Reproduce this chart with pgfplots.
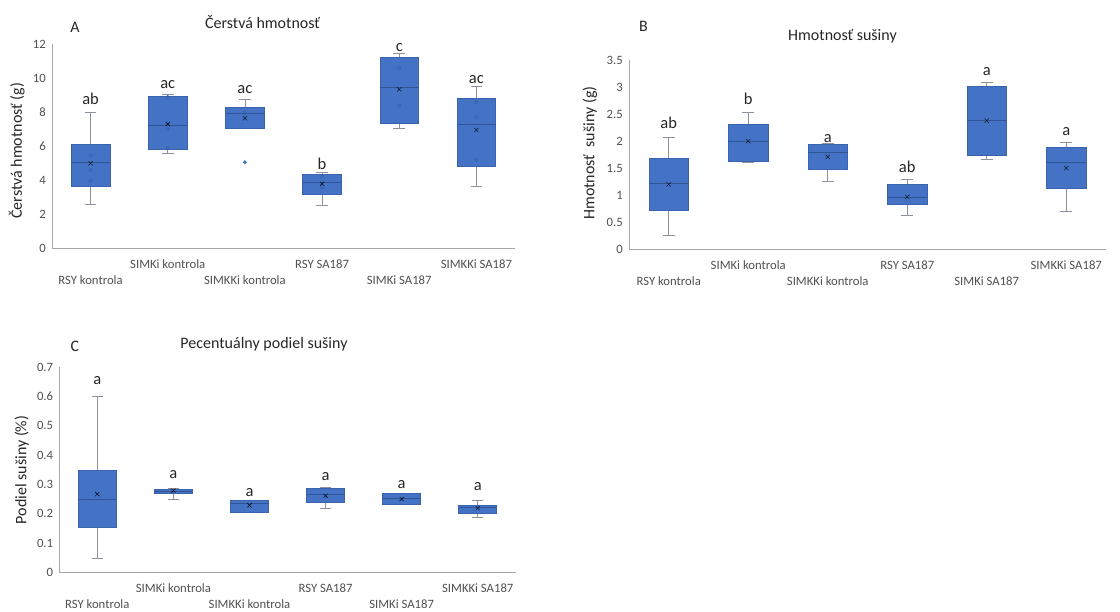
\documentclass[border=0pt]{standalone}
\usepackage{fontspec}
\setmainfont{Carlito}
\usepackage{pgfplots}
\pgfplotsset{compat=1.18}
\usepgfplotslibrary{statistics}
\definecolor{boxfill}{HTML}{4472C4}
\definecolor{boxedge}{HTML}{3A63AE}
\definecolor{mediancol}{HTML}{2F5597}
\definecolor{whiskergray}{HTML}{8C939E}
\definecolor{axisgray}{HTML}{A6A6A6}
\definecolor{tickgray}{HTML}{505050}
\definecolor{avgcol}{HTML}{2E5598}
\definecolor{innerpt}{HTML}{345EAC}
\newcommand{\tickfont}{\fontsize{12.7}{14}\selectfont}
\newcommand{\bigfont}{\fontsize{16}{19}\selectfont}
\newcommand{\lowlab}[1]{\raisebox{-16.5pt}{#1}}
\tikzset{letter/.style={anchor=base, font=\fontsize{16.5}{19}\selectfont, text=black!85, inner sep=0pt}}
\pgfplotsset{
  mybox/.style={
    scale only axis, clip=false,
    xmin=-0.5, xmax=5.5,
    axis x line=bottom, axis y line=left,
    axis line style={draw=axisgray, line width=0.8pt, -},
    x axis line style={-}, y axis line style={-},
    xtick={0,...,5},
    xticklabels={{\lowlab{RSY kontrola}},{SIMKi kontrola},{\lowlab{SIMKKi kontrola}},{RSY SA187},{\lowlab{SIMKi SA187}},{SIMKKi SA187}},
    major tick length=0pt, minor tick num=0,
    xticklabel style={anchor=base, yshift=-20pt, font=\tickfont, text=tickgray, inner sep=0pt},
    yticklabel style={anchor=east, xshift=-6pt, font=\tickfont, text=tickgray, inner sep=0pt},
    /pgf/number format/assume math mode=true,
    boxplot/draw direction=y,
    boxplot/box extend=0.5,
    boxplot/whisker extend=0.15,
    boxplot/every box/.style={draw=boxedge, fill=boxfill, line width=0.6pt},
    boxplot/every whisker/.style={draw=whiskergray, line width=0.8pt},
    boxplot/every median/.style={draw=mediancol, line width=0.8pt},
    boxplot/every average/.style={/tikz/mark=x, /tikz/mark size=3pt, draw=avgcol, line width=0.5pt},
  },
}
\begin{document}
\begin{tikzpicture}
\useasboundingbox (0,0) rectangle (1120pt,611pt);
% ---------------- Panel A ----------------
\begin{axis}[mybox, at={(52pt,362.7pt)}, anchor=south west,
  width=463pt, height=204pt, ymin=0, ymax=12, ytick={0,2,4,6,8,10,12}]
\addplot[boxplot prepared={draw position=0, lower whisker=2.6, lower quartile=3.62, median=5.06, upper quartile=6.13, upper whisker=8.0, average=5.0}] coordinates {};
\addplot[boxplot prepared={draw position=1, lower whisker=5.6, lower quartile=5.8, median=7.21, upper quartile=8.96, upper whisker=9.04, average=7.31}] coordinates {};
\addplot[boxplot prepared={draw position=2, lower whisker=7.06, lower quartile=7.06, median=7.94, upper quartile=8.27, upper whisker=8.78, average=7.65},
  mark=*, mark size=1.8pt, mark options={draw=boxfill, fill=boxfill}] table[row sep=\\, y index=0] {data\\ 5.06\\};
\addplot[boxplot prepared={draw position=3, lower whisker=2.5, lower quartile=3.19, median=3.88, upper quartile=4.37, upper whisker=4.45, average=3.8}] coordinates {};
\addplot[boxplot prepared={draw position=4, lower whisker=7.08, lower quartile=7.35, median=9.47, upper quartile=11.24, upper whisker=11.47, average=9.35}] coordinates {};
\addplot[boxplot prepared={draw position=5, lower whisker=3.66, lower quartile=4.82, median=7.29, upper quartile=8.82, upper whisker=9.51, average=6.96}] coordinates {};
\addplot[only marks, mark=o, mark size=1.8pt, mark options={draw=innerpt, line width=0.5pt}] coordinates {
 (0,5.45) (0,4.6) (0,3.96)
 (1,8.9) (1,7.0) (1,5.9)
 (2,7.95)
 (3,4.2) (3,3.6)
 (4,10.6) (4,8.4)
 (5,8.6) (5,7.7) (5,5.2)};
\node[letter] at (axis cs:0,8.43) {ab};
\node[letter] at (axis cs:1,9.41) {ac};
\node[letter] at (axis cs:2,9.08) {ac};
\node[letter] at (axis cs:3,4.65) {b};
\node[letter] at (axis cs:4,11.56) {c};
\node[letter] at (axis cs:5,9.7) {ac};
\end{axis}
% ---------------- Panel B ----------------
\begin{axis}[mybox, at={(629pt,361.7pt)}, anchor=south west,
  width=477pt, height=189.3pt, ymin=0, ymax=3.5, ytick={0,0.5,1,1.5,2,2.5,3,3.5}]
\addplot[boxplot prepared={draw position=0, lower whisker=0.25, lower quartile=0.73, median=1.22, upper quartile=1.68, upper whisker=2.07, average=1.20}] coordinates {};
\addplot[boxplot prepared={draw position=1, lower whisker=1.60, lower quartile=1.63, median=2.0, upper quartile=2.32, upper whisker=2.53, average=2.0}] coordinates {};
\addplot[boxplot prepared={draw position=2, lower whisker=1.25, lower quartile=1.48, median=1.79, upper quartile=1.94, upper whisker=1.95, average=1.71}] coordinates {};
\addplot[boxplot prepared={draw position=3, lower whisker=0.62, lower quartile=0.83, median=0.96, upper quartile=1.20, upper whisker=1.29, average=0.97}] coordinates {};
\addplot[boxplot prepared={draw position=4, lower whisker=1.67, lower quartile=1.74, median=2.38, upper quartile=3.02, upper whisker=3.09, average=2.38}] coordinates {};
\addplot[boxplot prepared={draw position=5, lower whisker=0.70, lower quartile=1.13, median=1.60, upper quartile=1.89, upper whisker=1.97, average=1.50}] coordinates {};
\node[letter] at (axis cs:0,2.24) {ab};
\node[letter] at (axis cs:1,2.67) {b};
\node[letter] at (axis cs:2,1.97) {a};
\node[letter] at (axis cs:3,1.42) {ab};
\node[letter] at (axis cs:4,3.22) {a};
\node[letter] at (axis cs:5,2.11) {a};
\end{axis}
% ---------------- Panel C ----------------
\begin{axis}[mybox, at={(59.3pt,38.7pt)}, anchor=south west,
  width=456.5pt, height=205pt, ymin=0, ymax=0.7, ytick={0,0.1,0.2,0.3,0.4,0.5,0.6,0.7}]
\addplot[boxplot prepared={draw position=0, lower whisker=0.046, lower quartile=0.154, median=0.25, upper quartile=0.348, upper whisker=0.602, average=0.267}] coordinates {};
\addplot[boxplot prepared={draw position=1, lower whisker=0.25, lower quartile=0.269, median=0.277, upper quartile=0.285, upper whisker=0.287, average=0.279}] coordinates {};
\addplot[boxplot prepared={draw position=2, lower whisker=0.203, lower quartile=0.205, median=0.234, upper quartile=0.246, upper whisker=0.246, average=0.229}] coordinates {};
\addplot[boxplot prepared={draw position=3, lower whisker=0.219, lower quartile=0.238, median=0.266, upper quartile=0.287, upper whisker=0.289, average=0.261}] coordinates {};
\addplot[boxplot prepared={draw position=4, lower whisker=0.233, lower quartile=0.233, median=0.252, upper quartile=0.270, upper whisker=0.270, average=0.25}] coordinates {};
\addplot[boxplot prepared={draw position=5, lower whisker=0.188, lower quartile=0.203, median=0.221, upper quartile=0.23, upper whisker=0.245, average=0.219}] coordinates {};
\node[letter] at (axis cs:0,0.64) {a};
\node[letter] at (axis cs:1,0.321) {a};
\node[letter] at (axis cs:2,0.258) {a};
\node[letter] at (axis cs:3,0.315) {a};
\node[letter] at (axis cs:4,0.287) {a};
\node[letter] at (axis cs:5,0.281) {a};
\end{axis}
% ---------------- Titles and labels ----------------
\node[font=\bigfont, text=black!85] at (75pt,611pt-27.3pt) {A};
\node[font=\bigfont, text=black!85] at (262.5pt,611pt-21.7pt) {Čerstvá hmotnosť};
\node[font=\bigfont, text=black!85, rotate=90] at (16.7pt,611pt-150.8pt) {Čerstvá hmotnosť (g)};
\node[font=\bigfont, text=black!85] at (643.5pt,611pt-26pt) {B};
\node[font=\bigfont, text=black!85] at (842.5pt,611pt-36pt) {Hmotnosť sušiny};
\node[font=\bigfont, text=black!85, rotate=90] at (590pt,611pt-153pt) {Hmotnosť\ \ sušiny (g)};
\node[font=\bigfont, text=black!85] at (75pt,611pt-346.7pt) {C};
\node[font=\bigfont, text=black!85] at (264pt,611pt-344pt) {Pecentuálny podiel sušiny};
\node[font=\bigfont, text=black!85, rotate=90] at (21.7pt,611pt-470pt) {Podiel sušiny (\%)};
\end{tikzpicture}
\end{document}
